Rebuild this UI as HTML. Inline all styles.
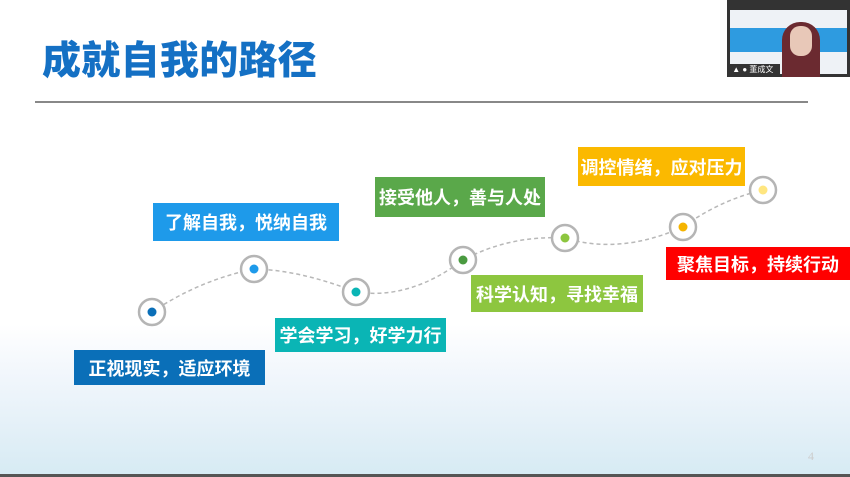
<!DOCTYPE html>
<html><head><meta charset="utf-8"><style>
body{margin:0;width:850px;height:477px;overflow:hidden;position:relative;font-family:"Liberation Sans","Noto Sans CJK SC",sans-serif;
background:linear-gradient(to bottom,#fff 0%,#fff 68%,#f2f7fc 78%,#e6f1f8 88%,#d7ebf4 99%);}
.t{position:absolute;left:42px;top:39px;font-size:39px;font-weight:900;color:#1470c4;line-height:46px;letter-spacing:0.3px}
.ln{position:absolute;left:35px;top:101px;width:773px;height:2px;background:#888}
.b{position:absolute;color:#fff;font-weight:bold;font-size:18px;display:flex;align-items:center;justify-content:center;white-space:nowrap}
.cam{position:absolute;left:727px;top:0;width:123px;height:77px;background:#333}
.bot{position:absolute;left:0;top:474px;width:850px;height:3px;background:#555}
</style></head><body>
<div class="t">成就自我的路径</div>
<div class="ln"></div>
<svg style="position:absolute;left:0;top:0" width="850" height="477">
<path d="M152,312 Q200,280 254,269 Q300,270 356,292 Q410,300 463,260 Q510,235 565,238 Q620,255 683,227 Q720,200 763,190" fill="none" stroke="#b8b8b8" stroke-width="1.5" stroke-dasharray="4,3"/>
<g stroke="#b5b5b5" stroke-width="2.5" fill="#fff">
<circle cx="152" cy="312" r="13"/><circle cx="254" cy="269" r="13"/><circle cx="356" cy="292" r="13"/><circle cx="463" cy="260" r="13"/><circle cx="565" cy="238" r="13"/><circle cx="683" cy="227" r="13"/><circle cx="763" cy="190" r="13"/></g>
<circle cx="152" cy="312" r="4.5" fill="#0a6fb8"/><circle cx="254" cy="269" r="4.5" fill="#1e9aea"/><circle cx="356" cy="292" r="4.5" fill="#0ab5b5"/><circle cx="463" cy="260" r="4.5" fill="#4a9a40"/><circle cx="565" cy="238" r="4.5" fill="#8dc63f"/><circle cx="683" cy="227" r="4.5" fill="#f5b400"/><circle cx="763" cy="190" r="4.5" fill="#ffe680"/>
<text x="808" y="460" font-size="12" fill="#ccc" font-family="Liberation Serif">4</text>
</svg>
<div class="b" style="left:74px;top:350px;width:191px;height:35px;background:#0a6fb8">正视现实，适应环境</div>
<div class="b" style="left:153px;top:203px;width:186px;height:38px;background:#1e9aea">了解自我，悦纳自我</div>
<div class="b" style="left:275px;top:318px;width:171px;height:34px;background:#0ab5b5">学会学习，好学力行</div>
<div class="b" style="left:375px;top:177px;width:170px;height:40px;background:#5aa84a">接受他人，善与人处</div>
<div class="b" style="left:471px;top:275px;width:172px;height:37px;background:#8dc63f">科学认知，寻找幸福</div>
<div class="b" style="left:578px;top:147px;width:167px;height:39px;background:#fbb900">调控情绪，应对压力</div>
<div class="b" style="left:666px;top:247px;width:184px;height:33px;background:#f00">聚焦目标，持续行动</div>
<div class="bot"></div>
<div class="cam">
<div style="position:absolute;left:3px;top:10px;width:117px;height:64px;background:#eef2f6"></div>
<div style="position:absolute;left:3px;top:28px;width:117px;height:24px;background:#2e9be0"></div>
<div style="position:absolute;left:55px;top:22px;width:38px;height:55px;background:#6b2a30;border-radius:18px 18px 0 0"></div>
<div style="position:absolute;left:63px;top:26px;width:22px;height:30px;background:#e8c8b8;border-radius:10px"></div>
<div style="position:absolute;left:3px;top:64px;width:50px;height:11px;background:#333;color:#fff;font-size:8px;line-height:11px">&nbsp;▲ ● 董成文</div>
</div>
</body></html>
